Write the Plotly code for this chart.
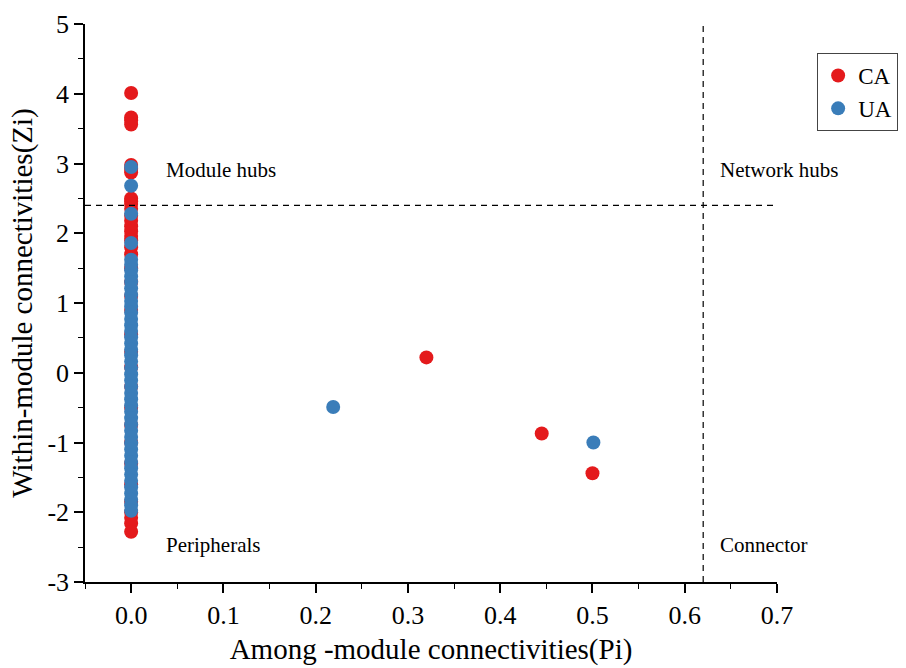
import plotly.graph_objects as go

# ---- data ----
ca_pi = [0.0]*37 + [0.32, 0.445, 0.50]
ca_zi = [4.01, 3.66, 3.62, 3.56, 2.98, 2.92, 2.87, 2.50, 2.46, 2.42, 2.35, 2.25,
         2.18, 2.10, 2.03, 1.96, 1.90, 1.80, 1.70, 1.50, 1.30, 1.10, 0.90, 0.55,
         0.30, 0.08, -0.20, -0.50, -0.75, -1.00, -1.30, -1.60, -1.85, -2.00,
         -2.08, -2.16, -2.28,
         0.22, -0.87, -1.44]

ua_zi_col = [2.95, 2.68, 2.28, 1.86, 1.62, 1.55, 1.47, 1.38, 1.30, 1.21, 1.12,
             1.03, 0.95, 0.86, 0.77, 0.68, 0.60, 0.51, 0.42, 0.33, 0.25, 0.16,
             0.07, -0.02, -0.11, -0.20, -0.29, -0.38, -0.47, -0.56, -0.65,
             -0.74, -0.83, -0.92, -1.01, -1.10, -1.19, -1.28, -1.37, -1.46,
             -1.55, -1.64, -1.73, -1.82, -1.90, -1.98]
ua_pi = [0.0]*len(ua_zi_col) + [0.219, 0.501]
ua_zi = ua_zi_col + [-0.49, -1.00]

x_ticks = [0.0, 0.1, 0.2, 0.3, 0.4, 0.5, 0.6, 0.7]
x_ticktext = ["0.0", "0.1", "0.2", "0.3", "0.4", "0.5", "0.6", "0.7"]
y_ticks = [-3, -2, -1, 0, 1, 2, 3, 4, 5]
y_ticktext = ["-3", "-2", "-1", "0", "1", "2", "3", "4", "5"]

pi_threshold = 0.62
zi_threshold = 2.4

region_labels = ["Module hubs", "Network hubs", "Peripherals", "Connector"]
region_x = [0.036, 0.636, 0.036, 0.636]
region_y = [2.91, 2.91, -2.47, -2.47]

RED = "#E41A1C"
BLUE = "#3A7DB9"
FONT = "Liberation Serif"

fig = go.Figure()
fig.add_trace(go.Scatter(x=ca_pi, y=ca_zi, mode="markers", name="CA",
                         marker=dict(color=RED, size=14, line=dict(width=0))))
fig.add_trace(go.Scatter(x=ua_pi, y=ua_zi, mode="markers", name="UA",
                         marker=dict(color=BLUE, size=14, line=dict(width=0))))

fig.add_shape(type="line", xref="x", yref="y", x0=-0.05, x1=0.7,
              y0=zi_threshold, y1=zi_threshold,
              line=dict(color="black", width=1.2, dash="6px,5px"))
fig.add_shape(type="line", xref="x", yref="y", x0=pi_threshold, x1=pi_threshold,
              y0=-3, y1=5.03,
              line=dict(color="black", width=1.2, dash="6px,5px"))

for t, xv, yv in zip(region_labels, region_x, region_y):
    fig.add_annotation(x=xv, y=yv, text=t, showarrow=False, xanchor="left",
                       yanchor="middle", font=dict(family=FONT, size=21, color="black"))

axis_common = dict(showgrid=False, zeroline=False, showline=True, linecolor="black",
                   linewidth=1.5, ticks="outside", ticklen=9, tickwidth=1.5,
                   tickcolor="black", tickfont=dict(family=FONT, size=26, color="black"))

fig.update_xaxes(range=[-0.05, 0.7], tickvals=x_ticks, ticktext=x_ticktext,
                 minor=dict(dtick=0.05, tick0=0, ticks="outside", ticklen=5,
                            tickwidth=1.2, tickcolor="black"),
                 title=dict(text="Among -module connectivities(Pi)",
                            font=dict(family=FONT, size=29, color="black"), standoff=10),
                 **axis_common)
fig.update_yaxes(range=[-3, 5], tickvals=y_ticks, ticktext=y_ticktext,
                 minor=dict(dtick=0.5, tick0=0, ticks="outside", ticklen=5,
                            tickwidth=1.2, tickcolor="black"),
                 title=dict(text="Within-module connectivities(Zi)",
                            font=dict(family=FONT, size=29, color="black"), standoff=6),
                 **axis_common)

fig.update_layout(
    width=906, height=668,
    margin=dict(l=85, r=129, t=24, b=86, autoexpand=False),
    plot_bgcolor="white", paper_bgcolor="white",
    font=dict(family=FONT, color="black"),
    legend=dict(x=1.058, y=0.948, xanchor="left", yanchor="top",
                bordercolor="#444", borderwidth=1,
                font=dict(family=FONT, size=23, color="black"),
                itemwidth=30, tracegroupgap=0),
    showlegend=True,
)

fig.write_html("out.html")
